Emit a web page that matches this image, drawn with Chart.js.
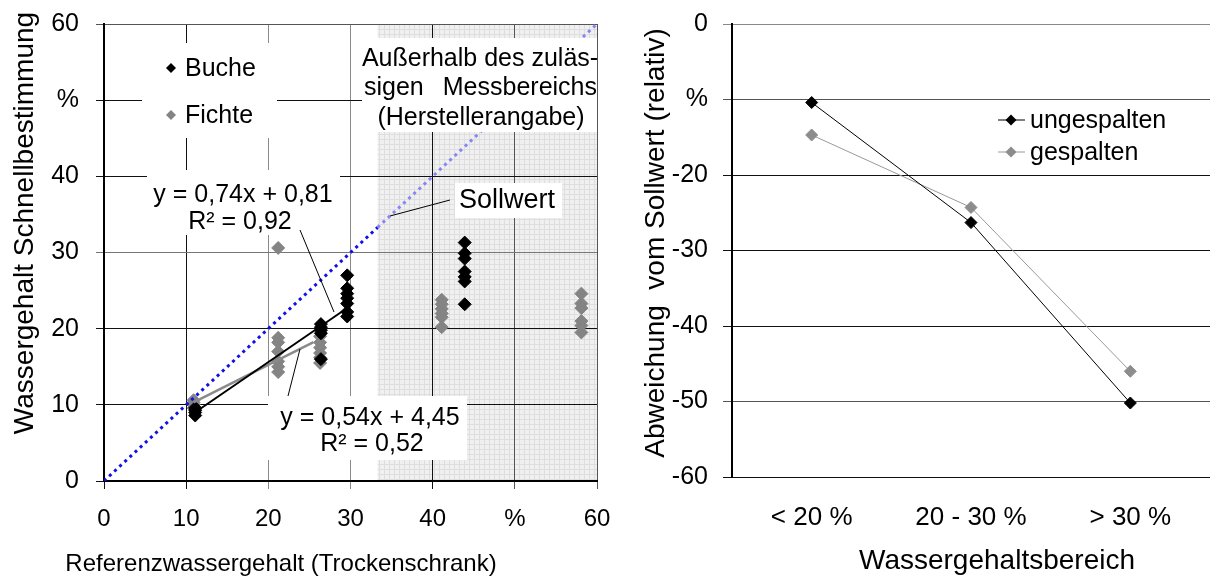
<!DOCTYPE html>
<html>
<head>
<meta charset="utf-8">
<script src="https://cdn.jsdelivr.net/npm/chart.js@4.4.0/dist/chart.umd.min.js"></script>
<style>
  html, body { margin: 0; padding: 0; background: #fff; }
  #wrap { position: relative; width: 1217px; height: 577px; }
  #leftChart { position: absolute; left: 0; top: 0; }
  #rightChart { position: absolute; left: 615px; top: 0; }
</style>
</head>
<body>
<div id="wrap">
  <canvas id="leftChart" width="615" height="577"></canvas>
  <canvas id="rightChart" width="602" height="577"></canvas>
</div>
<script>
// Buche (schwarz): Referenz-Wassergehalt / Schnellbestimmung
const bucheX = [11.1, 11.1, 11.1, 11.1, 26.4, 26.4, 26.4, 26.4, 26.4,
  29.6, 29.6, 29.6, 29.6, 29.6, 29.6, 29.6, 43.9, 43.9, 43.9, 43.9, 43.9, 43.9, 43.9];
const bucheY = [8.6, 9.0, 9.3, 9.6, 20.6, 20.2, 19.8, 19.4, 16.0,
  27.0, 25.3, 24.6, 24.0, 23.3, 22.2, 21.6, 31.3, 29.9, 29.2, 27.5, 26.8, 26.2, 23.2];

// Fichte (grau)
const fichteX = [10.9, 10.9, 10.9, 10.9, 21.2, 21.2, 21.2, 21.2, 21.2, 21.2, 21.2,
  26.3, 26.3, 26.3, 26.3, 26.3, 26.3, 41.1, 41.1, 41.1, 41.1, 41.1, 41.1,
  58.1, 58.1, 58.1, 58.1, 58.1, 58.1];
const fichteY = [9.6, 10.0, 10.3, 10.6, 30.6, 18.8, 18.2, 17.0, 15.7, 15.0, 14.3,
  19.0, 18.2, 17.5, 16.8, 16.2, 15.5, 23.8, 23.2, 22.6, 22.0, 21.5, 20.2,
  24.6, 23.3, 22.7, 21.0, 20.4, 19.5];

// Trendlinien (Gleichungen aus dem Diagramm)
const bucheTrendX = [11.1, 29.6];
const bucheTrend = [0.74, 0.81];
const fichteTrendX = [10.9, 25.5];
const fichteTrend = [0.54, 4.45];

// Sollwert y = x
const sollX = [0, 33.3, 60];
const messGrenze = 33.3; // Beginn "Außerhalb des zulässigen Messbereichs"

const achsenTicks = [0, 10, 20, 30, 40, 50, 60];

// rechtes Diagramm
const bereiche = ['< 20 %', '20 - 30 %', '> 30 %'];
const ungespalten = [-10.4, -26.3, -50.2];
const gespalten = [-14.7, -24.3, -46.0];

const FONT = '"Liberation Sans", Arial, Helvetica, sans-serif';
const f24 = { family: FONT, size: 24 };
const f25 = { family: FONT, size: 25 };
const f26 = { family: FONT, size: 26 };

function toXY(xs, ys) {
  return xs.map((x, i) => ({ x: x, y: ys[i] }));
}
function trend(xs, k) {
  return xs.map(x => ({ x: x, y: k[0] * x + k[1] }));
}

function shadePattern(ctx) {
  const c = document.createElement('canvas');
  c.width = 5; c.height = 5;
  const g = c.getContext('2d');
  g.fillStyle = '#f0f0f0';
  g.fillRect(0, 0, 5, 5);
  g.fillStyle = '#dedede';
  g.fillRect(0, 4, 5, 1);
  g.fillRect(4, 0, 1, 5);
  return ctx.createPattern(c, 'repeat');
}

function diamond(ctx, x, y, r, col) {
  ctx.fillStyle = col;
  ctx.beginPath();
  ctx.moveTo(x, y - r);
  ctx.lineTo(x + r, y);
  ctx.lineTo(x, y + r);
  ctx.lineTo(x - r, y);
  ctx.closePath();
  ctx.fill();
}

function line(ctx, x1, y1, x2, y2) {
  ctx.beginPath();
  ctx.moveTo(x1, y1);
  ctx.lineTo(x2, y2);
  ctx.stroke();
}

// feste Achsenbreiten, keine Zusatzabstaende durch Beschriftung
function fitX(h) {
  return s => { s.height = h; s.paddingLeft = 0; s.paddingRight = 0; };
}
function fitY(w) {
  return s => { s.width = w; s.paddingTop = 0; s.paddingBottom = 0; };
}

const leftDeko = {
  id: 'leftDeko',
  beforeDraw(chart) {
    const { ctx, chartArea: a, scales: { x } } = chart;
    const x0 = x.getPixelForValue(messGrenze);
    ctx.save();
    ctx.fillStyle = shadePattern(ctx);
    ctx.fillRect(x0, a.top, a.right - x0, a.bottom - a.top);
    ctx.restore();
  },
  afterDatasetsDraw(chart) {
    const ctx = chart.ctx;
    ctx.save();
    // weisse Textkaesten
    ctx.fillStyle = '#fff';
    ctx.fillRect(142, 43, 135, 95);
    ctx.fillRect(147, 170, 193, 65);
    ctx.fillRect(268, 396, 199, 64);
    ctx.fillRect(362, 38, 235, 94);
    ctx.fillRect(455, 183, 107, 35);

    // Hinweislinien
    ctx.strokeStyle = '#000';
    ctx.lineWidth = 1;
    line(ctx, 300, 230, 334, 312);
    line(ctx, 300, 349, 288, 396);
    line(ctx, 450, 200, 390, 216);

    // Legende
    diamond(ctx, 171, 68, 5, '#000');
    diamond(ctx, 171, 115, 5, '#848484');
    ctx.fillStyle = '#000';
    ctx.font = '25px ' + FONT;
    ctx.textBaseline = 'middle';
    ctx.textAlign = 'left';
    ctx.fillText('Buche', 185, 69);
    ctx.fillText('Fichte', 185, 116);

    ctx.textAlign = 'center';
    ctx.fillText('y = 0,74x + 0,81', 243, 195);
    ctx.fillText('R² = 0,92', 240, 222);
    ctx.fillText('y = 0,54x + 4,45', 370, 418);
    ctx.fillText('R² = 0,52', 372, 444);

    ctx.fillText('Außerhalb des zuläs-', 480, 59);
    ctx.textAlign = 'left';
    ctx.fillText('sigen', 364, 88);
    ctx.textAlign = 'right';
    ctx.fillText('Messbereichs', 597, 88);
    ctx.textAlign = 'center';
    ctx.fillText('(Herstellerangabe)', 481, 118);

    ctx.font = '27px ' + FONT;
    ctx.textAlign = 'left';
    ctx.fillText('Sollwert', 459, 201);

    // Achsentitel
    ctx.font = '24px ' + FONT;
    ctx.textAlign = 'center';
    ctx.textBaseline = 'alphabetic';
    ctx.fillText('Referenzwassergehalt (Trockenschrank)', 281, 571);
    ctx.font = '28px ' + FONT;
    ctx.translate(33, 223);
    ctx.rotate(-Math.PI / 2);
    ctx.fillText('Wassergehalt Schnellbestimmung', 0, 0);
    ctx.restore();
  }
};

const leftGridX = ctx => {
  const v = ctx.tick && ctx.tick.value;
  if (v === 20 || v === 30) return '#8a8a8a';
  if (v === 50 || v === 60) return '#555';
  return '#111';
};
const leftGridY = ctx => {
  const v = ctx.tick && ctx.tick.value;
  if (v === 30) return '#777';
  if (v === 60) return '#555';
  return '#111';
};

new Chart(document.getElementById('leftChart'), {
  type: 'scatter',
  data: {
    datasets: [
      {
        label: 'Buche Trend',
        type: 'line',
        data: trend(bucheTrendX, bucheTrend),
        borderColor: '#000',
        borderWidth: 2,
        pointRadius: 0,
        order: 0
      },
      {
        label: 'Fichte Trend',
        type: 'line',
        data: trend(fichteTrendX, fichteTrend),
        borderColor: '#8a8a8a',
        borderWidth: 2.5,
        pointRadius: 0,
        order: 0
      },
      {
        label: 'Sollwert',
        type: 'line',
        data: toXY(sollX, sollX),
        borderWidth: 3,
        borderDash: [3, 4],
        borderCapStyle: 'butt',
        borderColor: '#1010e8',
        segment: {
          borderColor: c => c.p0.parsed.x >= messGrenze ? '#8585f5' : '#1010e8'
        },
        pointRadius: 0,
        order: 1
      },
      {
        label: 'Buche',
        data: toXY(bucheX, bucheY),
        pointStyle: 'rectRot',
        pointRadius: 6.5,
        backgroundColor: '#000',
        borderColor: '#000',
        borderWidth: 1,
        order: 2
      },
      {
        label: 'Fichte',
        data: toXY(fichteX, fichteY),
        pointStyle: 'rectRot',
        pointRadius: 6.5,
        backgroundColor: '#848484',
        borderColor: '#848484',
        borderWidth: 1,
        order: 3
      }
    ]
  },
  options: {
    responsive: false,
    animation: false,
    layout: { padding: { top: 24, right: 18, left: 0, bottom: 0 } },
    plugins: { legend: { display: false }, tooltip: { enabled: false } },
    scales: {
      x: {
        type: 'linear',
        min: 0,
        max: 60,
        afterBuildTicks: s => { s.ticks = achsenTicks.map(v => ({ value: v })); },
        ticks: { color: '#000', font: f24, padding: 16, callback: v => v === 50 ? '%' : v },
        grid: { color: leftGridX, tickLength: 8 },
        border: { color: '#000', width: 2 },
        afterFit: fitX(96)
      },
      y: {
        type: 'linear',
        min: 0,
        max: 60,
        afterBuildTicks: s => { s.ticks = achsenTicks.map(v => ({ value: v })); },
        ticks: { color: '#000', font: f25, padding: 17, callback: v => v === 50 ? '%' : v },
        grid: { color: leftGridY, tickLength: 8 },
        border: { color: '#000', width: 2 },
        afterFit: fitY(104)
      }
    }
  },
  plugins: [leftDeko]
});

const rightDeko = {
  id: 'rightDeko',
  afterDraw(chart) {
    const ctx = chart.ctx;
    ctx.save();
    ctx.lineWidth = 1;
    ctx.strokeStyle = '#000';
    line(ctx, 383, 120, 410, 120);
    diamond(ctx, 396, 120, 5.5, '#000');
    ctx.strokeStyle = '#999';
    line(ctx, 383, 152, 410, 152);
    diamond(ctx, 396, 152, 5.5, '#8c8c8c');

    ctx.fillStyle = '#000';
    ctx.font = '25px ' + FONT;
    ctx.textAlign = 'left';
    ctx.textBaseline = 'middle';
    ctx.fillText('ungespalten', 415, 121);
    ctx.fillText('gespalten', 415, 153);

    ctx.font = '28px ' + FONT;
    ctx.textAlign = 'center';
    ctx.textBaseline = 'alphabetic';
    ctx.fillText('Wassergehaltsbereich', 382, 569);
    ctx.translate(49, 243);
    ctx.rotate(-Math.PI / 2);
    ctx.fillText('Abweichung  vom Sollwert (relativ)', 0, 0);
    ctx.restore();
  }
};

new Chart(document.getElementById('rightChart'), {
  type: 'line',
  data: {
    labels: bereiche,
    datasets: [
      {
        label: 'ungespalten',
        data: ungespalten,
        borderColor: '#000',
        borderWidth: 1,
        pointStyle: 'rectRot',
        pointRadius: 6,
        pointBackgroundColor: '#000',
        pointBorderColor: '#000'
      },
      {
        label: 'gespalten',
        data: gespalten,
        borderColor: '#999',
        borderWidth: 1,
        pointStyle: 'rectRot',
        pointRadius: 6,
        pointBackgroundColor: '#8c8c8c',
        pointBorderColor: '#8c8c8c'
      }
    ]
  },
  options: {
    responsive: false,
    animation: false,
    layout: { padding: { top: 24, right: 7, left: 0, bottom: 0 } },
    plugins: { legend: { display: false }, tooltip: { enabled: false } },
    scales: {
      x: {
        offset: true,
        grid: { display: false, drawTicks: false },
        border: { display: false },
        ticks: { color: '#000', font: f26, padding: 25 },
        afterFit: fitX(100)
      },
      y: {
        min: -60,
        max: 0,
        ticks: { stepSize: 10, color: '#000', font: f25, padding: 15, callback: v => v === -10 ? '%' : v },
        grid: {
          tickLength: 9,
          color: c => {
            const v = c.tick && c.tick.value;
            if (v === 0) return '#888';
            if (v === -10 || v === -50) return '#555';
            return '#111';
          }
        },
        border: { color: '#000', width: 2 },
        afterFit: fitY(117)
      }
    }
  },
  plugins: [rightDeko]
});
</script>
</body>
</html>
